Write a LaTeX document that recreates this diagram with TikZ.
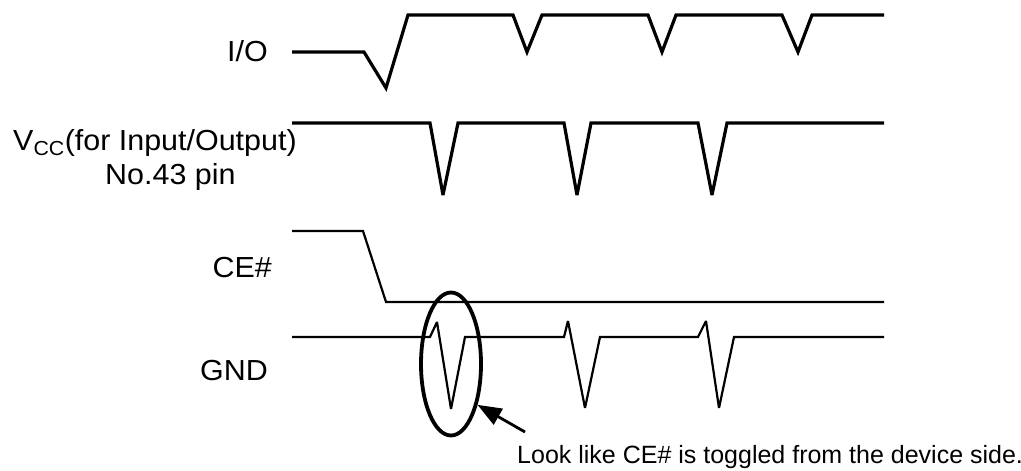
\documentclass[tikz,border=0pt]{standalone}
\usepackage{fontspec}
\setmainfont{Liberation Sans}
\newfontfamily\labfont[FakeStretch=1.05]{Liberation Sans}
\usetikzlibrary{arrows.meta,shapes.geometric}
\begin{document}
\begin{tikzpicture}[x=1pt,y=-1pt,
  sigthick/.style={line width=3.2pt,line join=miter,miter limit=3},
  sigthin/.style={line width=2.2pt,line join=miter,miter limit=3},
  lab/.style={font=\labfont\fontsize{29}{31}\selectfont,inner sep=0pt},
  note/.style={font=\fontsize{25}{27}\selectfont,inner sep=0pt},
  ring/.style={ellipse,draw,line width=3.8pt,minimum width=60pt,minimum height=143pt,inner sep=0pt},
  pointer/.style={line width=2.8pt,-{Triangle[length=24pt,width=18pt]}}]
\useasboundingbox (0,0) rectangle (1021,471);

% labels
\node[lab,anchor=base east] (lio) at (268,61) {I/O};
\node[lab,anchor=base west] (lvcc) at (13,150) {V\textsubscript{CC}(for Input/Output)};
\node[lab,anchor=base west] (lpin) at (105,184) {No.43 pin};
\node[lab,anchor=base east] (lce) at (272,277) {CE\#};
\node[lab,anchor=base east] (lgnd) at (268,380) {GND};

% I/O
\draw[sigthick] (292,52) -- (364,52) -- (386,88) -- (408,15) -- (513,15) -- (527,52) -- (542,15)
  -- (648,15) -- (662,52) -- (676,15) -- (782,15) -- (798,52) -- (812,15) -- (884,15);
% Vcc
\draw[sigthick] (292,123) -- (430,123) -- (443,195) -- (458,123) -- (564,123) -- (577,195) -- (591,123)
  -- (698,123) -- (712,195) -- (727,123) -- (884,123);
% CE#
\draw[sigthin] (292,231) -- (363,231) -- (386,302) -- (884,302);
% GND
\draw[sigthin] (292,337) -- (430,337) -- (437,322) -- (451,409) -- (465,337) -- (564,337) -- (568,321)
  -- (585,408) -- (600,337) -- (698,337) -- (706,321) -- (719,408) -- (734,337) -- (884,337);

% highlight
\node[ring] (circ) at (451,364) {};
\coordinate (tail) at (525,432);
\draw[pointer] (tail) -- (circ.-57);
\node[note,anchor=base west] (lnote) at (517,463) {Look like CE\# is toggled from the device side.};
\end{tikzpicture}
\end{document}
